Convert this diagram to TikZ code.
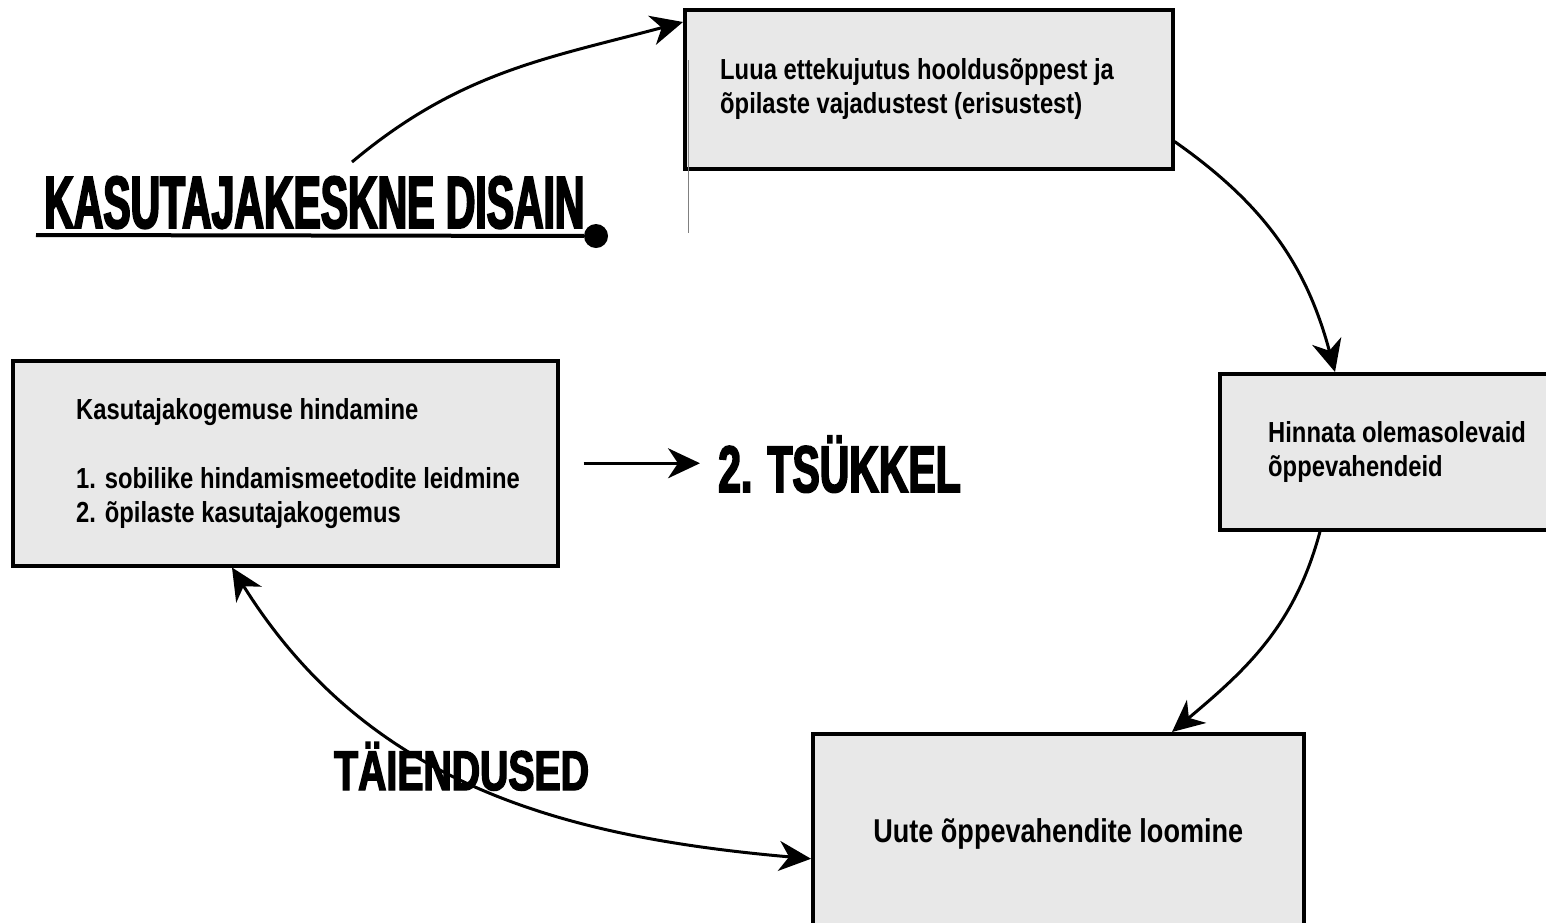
\documentclass[tikz,border=0pt]{standalone}
\usepackage{fontspec}
\usepackage{xcolor}
\usepackage{tikz}
\usetikzlibrary{positioning}
\usetikzlibrary{arrows.meta}
\setmainfont{Liberation Sans}
\newfontfamily\bodyfont[FakeStretch=0.82]{Liberation Sans Bold}
\newfontfamily\headfont[FakeBold=2.5]{Liberation Sans Bold}
\definecolor{boxgray}{HTML}{E8E8E8}

\begin{document}
\begin{tikzpicture}[x=1pt,y=-1pt,
  box/.style={draw,line width=3.5pt,fill=boxgray,anchor=north west,inner sep=0pt,
    font=\bodyfont\fontsize{33}{38}\selectfont},
  boxtext/.style={anchor=west,align=left,inner sep=0pt,
    font=\bodyfont\fontsize{29}{34}\selectfont},
  bigtext/.style={anchor=base west,inner sep=0pt},
  arr/.style={-{Stealth[length=32pt,width=30pt,inset=10pt]},line width=3pt}]
\useasboundingbox (0,0) rectangle (1546,922);

\node[box,minimum width=488pt,minimum height=159pt] (hoolB) at (683,8) {};
\node[boxtext,right=37pt of hoolB.west] (hoolT) {Luua ettekujutus hooldusõppest ja\\õpilaste vajadustest (erisustest)};
\node[box,minimum width=340pt,minimum height=156pt] (hinnB) at (1218,372) {};
\node[boxtext,right=50pt of hinnB.west] (hinnT) {Hinnata olemasolevaid\\õppevahendeid};
\node[box,minimum width=491pt,minimum height=200pt] (uuteB) at (811,732) {Uute õppevahendite loomine};
\node[box,minimum width=545pt,minimum height=205pt] (kasB) at (11,359) {};
\node[boxtext,right=65pt of kasB.west] (kasT) {Kasutajakogemuse hindamine\\[35pt]1. sobilike hindamismeetodite leidmine\\2. õpilaste kasutajakogemus};

% pealkirjad
\node[bigtext,font=\headfont\addfontfeatures{FakeStretch=0.553}\fontsize{74}{80}\selectfont] (disain) at (44,228) {KASUTAJAKESKNE DISAIN};
\node[bigtext,font=\headfont\addfontfeatures{FakeStretch=0.62}\fontsize{66}{72}\selectfont] (tsukkel) at (718,492) {2. TSÜKKEL};
\node[bigtext,font=\headfont\addfontfeatures{FakeStretch=0.70}\fontsize{56}{62}\selectfont] (taiend) at (334,790) {TÄIENDUSED};

\node[circle,fill,inner sep=0pt,minimum size=24pt] (dot) at (596,236) {};
\coordinate (ul) at (36,235);
\draw[line width=4pt] (ul) -- (dot);
\coordinate (tl1) at (688,60);
\coordinate (tl2) at (688,233);
\draw[gray,line width=1pt] (tl1) -- (tl2);

% nooled
\coordinate (dstart) at (352,162);
\draw[arr] (dstart) to[out=40,in=195] ([yshift=-14pt]hoolB.north west);
\draw[arr] ([yshift=29pt]hoolB.south east) to[out=-35,in=105] ([xshift=117pt]hinnB.north west);
\draw[arr] ([xshift=102pt]hinnB.south west) to[out=-105,in=40] ([xshift=361pt]uuteB.north west);
\draw[arr,{Stealth[length=32pt,width=30pt,inset=10pt]}-{Stealth[length=32pt,width=30pt,inset=10pt]}]
  ([xshift=221pt]kasB.south west) to[out=-58,in=175] ([yshift=-25pt]uuteB.west);
\draw[arr,shorten <=24pt,shorten >=18pt] (kasB.east) -- (kasB.east -| tsukkel.west);
\end{tikzpicture}
\end{document}
